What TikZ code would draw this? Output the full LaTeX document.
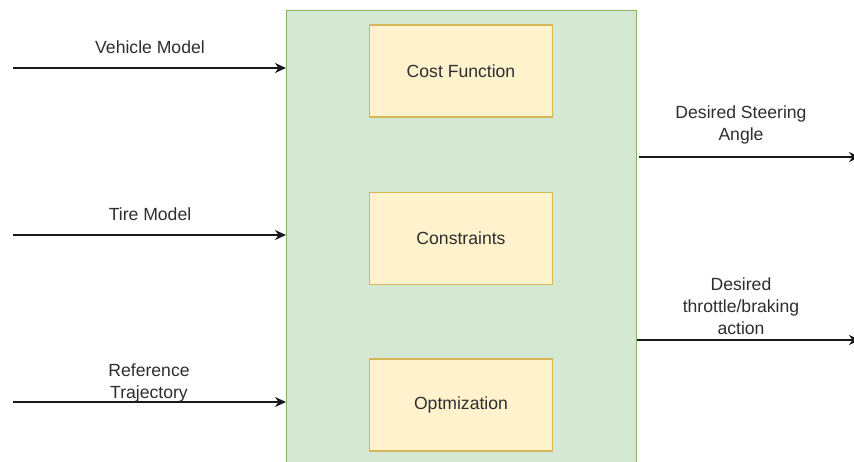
\documentclass[tikz,border=0pt]{standalone}
\usepackage{fontspec}
\setmainfont{Liberation Sans}
\usetikzlibrary{arrows.meta}
\definecolor{ctrlfill}{HTML}{D5E8D4}
\definecolor{ctrldraw}{HTML}{82B366}
\definecolor{partfill}{HTML}{FFF2CC}
\definecolor{partdraw}{HTML}{D6B656}
\definecolor{txt}{HTML}{2E2E2E}
\tikzset{
  ctrl/.style={draw=ctrldraw, fill=ctrlfill, line width=1pt, inner sep=0pt},
  part/.style={draw=partdraw, fill=partfill, line width=1.5pt, inner sep=0pt,
    font=\fontsize{17.6}{22}\selectfont, text=txt},
  lbl/.style={align=center, inner sep=0pt, font=\fontsize{17.6}{22}\selectfont, text=txt},
  flow/.style={draw=black!90, line width=1.4pt, -{Stealth[length=11pt, width=10pt, inset=3.5pt]}}
}
\begin{document}
\begin{tikzpicture}[x=1pt, y=-1pt]
  \useasboundingbox (0,0) rectangle (854,462);
  \clip (0,0) rectangle (854,462);
  \fill[white] (0,0) rectangle (854,462);

  % controller block, running past the lower edge
  \node[ctrl, minimum width=350pt, minimum height=470pt, anchor=north west] (mpc) at (286,10) {};

  % internal components
  \node[part, minimum width=183pt, minimum height=92pt] (cost) at (461,71) {Cost Function};
  \node[part, minimum width=183pt, minimum height=92pt] (cons) at (461,238.5) {Constraints};
  \node[part, minimum width=183pt, minimum height=92pt] (opt) at (461,405) {Optmization};

  % inputs
  \coordinate (vmS) at (13,68);
  \coordinate (tmS) at (13,235);
  \coordinate (rtS) at (13,402);
  \draw[flow] (vmS) -- (vmS -| mpc.west);
  \draw[flow] (tmS) -- (tmS -| mpc.west);
  \draw[flow] (rtS) -- (rtS -| mpc.west);
  \node[lbl] (vmL) at (150,47) {Vehicle Model};
  \node[lbl] (tmL) at (150,214) {Tire Model};
  \node[lbl] (rtL) at (149,383) {Reference\\Trajectory};

  % outputs
  \coordinate (saE) at (860,157);
  \coordinate (tbE) at (860,340);
  \draw[flow] ([xshift=2pt]mpc.east |- saE) -- (saE);
  \draw[flow] (mpc.east |- tbE) -- (tbE);
  \node[lbl] (saL) at (741,125) {Desired Steering\\Angle};
  \node[lbl] (tbL) at (741,306) {Desired\\throttle/braking\\action};
\end{tikzpicture}
\end{document}
